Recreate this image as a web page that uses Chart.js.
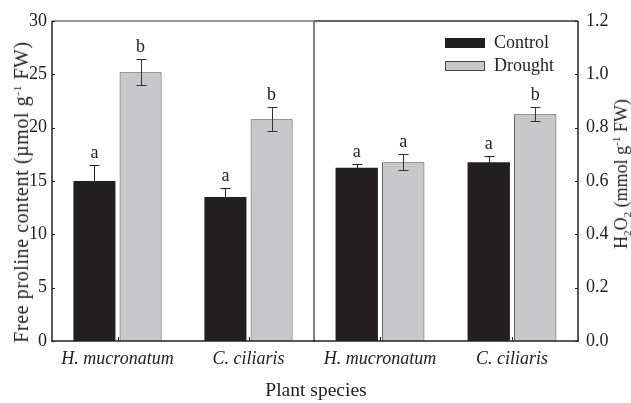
<!DOCTYPE html>
<html>
<head>
<meta charset="utf-8">
<script src="https://cdn.jsdelivr.net/npm/chart.js@4.4.1/dist/chart.umd.min.js"></script>
<style>
  body { margin: 0; background: #fff; }
  #wrap { position: relative; width: 631px; height: 403px; font-family: 'Liberation Serif', 'Times New Roman', serif; color: #222; }
  #wrap canvas { position: absolute; left: 0; top: 0; }
  .title { position: absolute; font-size: 18px; white-space: nowrap; line-height: 1; }
  .rot { transform: translate(-50%, -50%) rotate(-90deg); }
  .title sup { font-size: 11px; vertical-align: 7px; }
  .title sub { font-size: 11px; vertical-align: -4px; }
</style>
</head>
<body>
<div id="wrap">
  <canvas id="charts__proline" width="631" height="403"></canvas>
  <canvas id="charts__h2o2" width="631" height="403"></canvas>
  <div class="title rot" style="left:21px; top:192px; font-size:20px; letter-spacing:0.6px;">Free proline content (&micro;mol g<sup>-1</sup> FW)</div>
  <div class="title rot" style="left:622px; top:174px;">H<sub>2</sub>O<sub>2</sub> (mmol g<sup>-1</sup> FW)</div>
  <div class="title" style="left:316px; top:390px; font-size:19.5px; transform: translate(-50%, -50%);">Plant species</div>
</div>
<script>
// data
const categories = ['H. mucronatum', 'C. ciliaris'];

const prolineControl = [15.0, 13.5];
const prolineControlErr = [1.5, 0.8];
const prolineControlLetters = ['a', 'a'];
const prolineDrought = [25.2, 20.8];
const prolineDroughtErr = [1.2, 1.1];
const prolineDroughtLetters = ['b', 'b'];
const prolineTicks = [0, 5, 10, 15, 20, 25, 30];

const h2o2Control = [0.65, 0.67];
const h2o2ControlErr = [0.012, 0.022];
const h2o2ControlLetters = ['a', 'a'];
const h2o2Drought = [0.67, 0.85];
const h2o2DroughtErr = [0.03, 0.026];
const h2o2DroughtLetters = ['a', 'b'];
const h2o2Ticks = [0, 0.2, 0.4, 0.6, 0.8, 1.0, 1.2];

const seriesNames = ['Control', 'Drought'];

const FONT = "'Liberation Serif', 'Times New Roman', serif";
const BLACK = '#231f20';
const GREY = '#c8c8ca';
const AXIS = '#222';
const FRAME = '#777';

// error bars + significance letters
const errorBars = {
  id: 'errorBars',
  afterDatasetsDraw(chart) {
    const ctx = chart.ctx;
    const y = chart.scales.y;
    ctx.save();
    ctx.lineWidth = 1;
    ctx.font = '18px ' + FONT;
    ctx.textAlign = 'center';
    ctx.textBaseline = 'alphabetic';
    chart.data.datasets.forEach(function (ds, d) {
      ctx.strokeStyle = d === 0 ? BLACK : '#333';
      ctx.fillStyle = '#222';
      chart.getDatasetMeta(d).data.forEach(function (bar, i) {
        const v = ds.data[i], e = ds.err[i];
        const top = y.getPixelForValue(v + e);
        const bot = y.getPixelForValue(v - e);
        const x = Math.round(bar.x) + 0.5;
        ctx.beginPath();
        ctx.moveTo(x, top); ctx.lineTo(x, bot);
        ctx.moveTo(x - 5, Math.round(top) + 0.5); ctx.lineTo(x + 5, Math.round(top) + 0.5);
        ctx.moveTo(x - 5, Math.round(bot) + 0.5); ctx.lineTo(x + 5, Math.round(bot) + 0.5);
        ctx.stroke();
        ctx.fillText(ds.letters[i], bar.x, top - 7);
      });
    });
    ctx.restore();
  }
};

// frame lines and inward ticks
const frame = {
  id: 'frame',
  afterDraw(chart, args, opts) {
    const ctx = chart.ctx;
    const a = chart.chartArea;
    const y = chart.scales.y, x = chart.scales.x;
    ctx.save();
    function line(x1, y1, x2, y2, c, w) {
      ctx.strokeStyle = c; ctx.lineWidth = w;
      ctx.beginPath(); ctx.moveTo(x1, y1); ctx.lineTo(x2, y2); ctx.stroke();
    }
    const s = opts.sides;
    line(a.left, a.top, a.right, a.top, s.top, 1.5);
    line(a.left, a.top, a.left, a.bottom, s.left, 1.5);
    line(a.right, a.top, a.right, a.bottom, s.right, 1.5);
    line(a.left - 1, a.bottom, a.right + 1, a.bottom, s.bottom, 1.5);
    const ax = opts.axisSide === 'left' ? a.left : a.right;
    const dir = opts.axisSide === 'left' ? 1 : -1;
    y.ticks.forEach(function (t) {
      const py = Math.round(y.getPixelForValue(t.value)) + 0.5;
      line(ax, py, ax + dir * 3, py, AXIS, 1);
    });
    x.ticks.forEach(function (t, i) {
      const px = Math.round(x.getPixelForTick(i)) + 0.5;
      line(px, a.bottom, px, a.bottom - 4, AXIS, 1);
    });
    ctx.restore();
  }
};

const legendBox = {
  id: 'legendBox',
  afterDraw(chart) {
    const ctx = chart.ctx;
    ctx.save();
    ctx.font = '18px ' + FONT;
    ctx.textBaseline = 'middle';
    ctx.textAlign = 'left';
    chart.data.datasets.forEach(function (ds, d) {
      const top = d === 0 ? 38 : 61;
      ctx.fillStyle = ds.backgroundColor;
      ctx.fillRect(445, top, 40, 10);
      ctx.strokeStyle = d === 0 ? BLACK : '#444';
      ctx.lineWidth = 1;
      ctx.strokeRect(445.5, top + 0.5, 39, 9);
      ctx.fillStyle = '#222';
      ctx.fillText(ds.label, 494, top + 5);
    });
    ctx.restore();
  }
};

function makeDatasets(ctrl, ctrlErr, ctrlLet, dr, drErr, drLet) {
  return [
    { label: seriesNames[0], data: ctrl, err: ctrlErr, letters: ctrlLet,
      backgroundColor: BLACK, borderColor: BLACK, borderWidth: 0,
      categoryPercentage: 0.705, barPercentage: 0.91 },
    { label: seriesNames[1], data: dr, err: drErr, letters: drLet,
      backgroundColor: GREY, borderColor: '#444', borderWidth: 1,
      categoryPercentage: 0.705, barPercentage: 0.91 }
  ];
}

function makeOptions(side, ticksArr, max, fmt, padding, frameSides) {
  return {
    responsive: false,
    animation: false,
    layout: { padding: padding },
    plugins: {
      legend: { display: false },
      tooltip: { enabled: false },
      frame: { sides: frameSides, axisSide: side }
    },
    scales: {
      x: {
        type: 'category',
        grid: { display: false, drawTicks: false },
        border: { display: false },
        ticks: { font: { family: FONT, size: 18, style: 'italic' }, color: '#222', padding: 7, maxRotation: 0 },
        afterFit: function (s) { s.height = 62; }
      },
      y: {
        position: side,
        min: 0, max: max,
        grid: { display: false, drawTicks: false },
        border: { display: false },
        ticks: { font: { family: FONT, size: 18 }, color: '#222', padding: side === 'left' ? 5 : 8, callback: fmt },
        afterBuildTicks: function (s) { s.ticks = ticksArr.map(function (v) { return { value: v }; }); },
        afterFit: function (s) { s.width = side === 'left' ? 52 : 53; }
      }
    }
  };
}

document.addEventListener('DOMContentLoaded', function () {

  var proline = document.getElementById('charts__proline').getContext('2d');
  new Chart(proline, {
    type: 'bar',
    data: {
      labels: categories,
      datasets: makeDatasets(prolineControl, prolineControlErr, prolineControlLetters,
        prolineDrought, prolineDroughtErr, prolineDroughtLetters)
    },
    options: makeOptions('left', prolineTicks, 30, function (v) { return v; },
      { left: 0, right: 317, top: 21, bottom: 0 },
      { top: FRAME, left: AXIS, right: FRAME, bottom: AXIS }),
    plugins: [errorBars, frame]
  });

  var h2o2 = document.getElementById('charts__h2o2').getContext('2d');
  new Chart(h2o2, {
    type: 'bar',
    data: {
      labels: categories,
      datasets: makeDatasets(h2o2Control, h2o2ControlErr, h2o2ControlLetters,
        h2o2Drought, h2o2DroughtErr, h2o2DroughtLetters)
    },
    options: makeOptions('right', h2o2Ticks, 1.2, function (v) { return Number(v).toFixed(1); },
      { left: 314, right: 0, top: 21, bottom: 0 },
      { top: '#333', left: FRAME, right: AXIS, bottom: AXIS }),
    plugins: [errorBars, frame, legendBox]
  });

});
</script>
</body>
</html>
